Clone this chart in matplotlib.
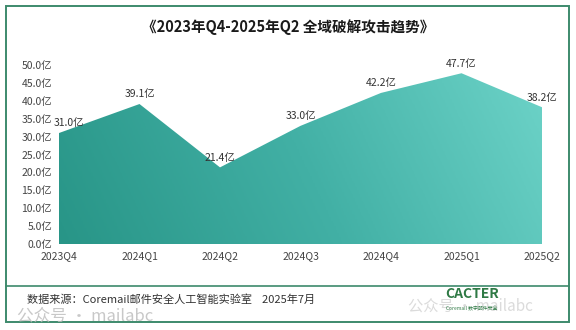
import numpy as np
import matplotlib
matplotlib.use('Agg')
import matplotlib.pyplot as plt
from matplotlib.colors import LinearSegmentedColormap
from matplotlib.patches import Rectangle
from matplotlib.lines import Line2D

plt.rcParams['font.family'] = ['Noto Sans CJK SC', 'DejaVu Sans']

# 各季度全域破解攻击次数（亿）
quarters = ['2023Q4', '2024Q1', '2024Q2', '2024Q3', '2024Q4', '2025Q1', '2025Q2']
attacks = [31.0, 39.1, 21.4, 33.0, 42.2, 47.7, 38.2]
yticks = [0, 5, 10, 15, 20, 25, 30, 35, 40, 45, 50]

fig = plt.figure(figsize=(5.76, 3.30), dpi=100)
fig.patch.set_facecolor('white')

# 外框和底部分隔线
fig.add_artist(Rectangle((6 / 576, 1 - 322 / 330), 563 / 576, 316 / 330,
                         transform=fig.transFigure, fill=False,
                         edgecolor='#3d8a6c', linewidth=1.4))
fig.add_artist(Line2D([6 / 576, 569 / 576], [1 - 286 / 330] * 2,
                      transform=fig.transFigure, color='#3d8a6c', linewidth=1.2))

fig.text(0.5, 1 - 27 / 330, '《2023年Q4-2025年Q2 全域破解攻击趋势》',
         ha='center', va='center', fontsize=10.5, fontweight='bold', color='#1a1a1a')

ax = fig.add_axes([59 / 576, 1 - 244 / 330, 483 / 576, 179 / 330])
x = np.arange(len(quarters))

# 渐变填充面积
poly = ax.fill_between(x, attacks, 0, color='none')
cmap = LinearSegmentedColormap.from_list('teal', ['#289587', '#42b0a5', '#6dd3c8'])
xx, yy = np.meshgrid(np.linspace(0, 1, 300), np.linspace(0, 1, 100))
grad = 0.85 * xx + 0.15 * yy
img = ax.imshow(grad, extent=[0, len(x) - 1, 0, 50], origin='lower',
                aspect='auto', cmap=cmap, zorder=2)
img.set_clip_path(poly.get_paths()[0], transform=ax.transData)

for i, v in enumerate(attacks):
    dx = 0.12 if i == 0 else 0
    ax.text(i + dx, v + 1.3, f'{v:.1f}亿', ha='center', va='bottom',
            fontsize=7.5, color='#333333', clip_on=False, zorder=3)

ax.set_xlim(0, len(x) - 1)
ax.set_ylim(0, 50)
ax.set_xticks(x)
ax.set_xticklabels(quarters, fontsize=7.5, color='#444444')
ax.set_yticks(yticks)
ax.set_yticklabels([f'{t:.1f}亿' for t in yticks], fontsize=7.5, color='#444444')
ax.tick_params(length=0, pad=5)
for s in ax.spines.values():
    s.set_visible(False)

fig.text(27 / 576, 1 - 299 / 330,
         '数据来源：Coremail邮件安全人工智能实验室    2025年7月',
         ha='left', va='center', fontsize=8, color='#333333')

# 水印
fig.text(17 / 576, 1 - 316 / 330, '公众号 · mailabc', ha='left', va='center',
         fontsize=12, color='#bbbbbb', alpha=0.8)
fig.text(408 / 576, 1 - 306 / 330, '公众号 · mailabc', ha='left', va='center',
         fontsize=11, color='#c4c4c4', alpha=0.6, zorder=1)

# CACTER 标识
fig.text(472 / 576, 1 - 294 / 330, 'CACTER', ha='center', va='center',
         fontsize=10, fontweight='bold', color='#2f7a45', zorder=3)
fig.text(472 / 576, 1 - 309 / 330, 'Coremail 数字邮件安全', ha='center', va='center',
         fontsize=3.5, color='#2f7a45', zorder=3)

fig.savefig('out.png', dpi=100, facecolor='white')
